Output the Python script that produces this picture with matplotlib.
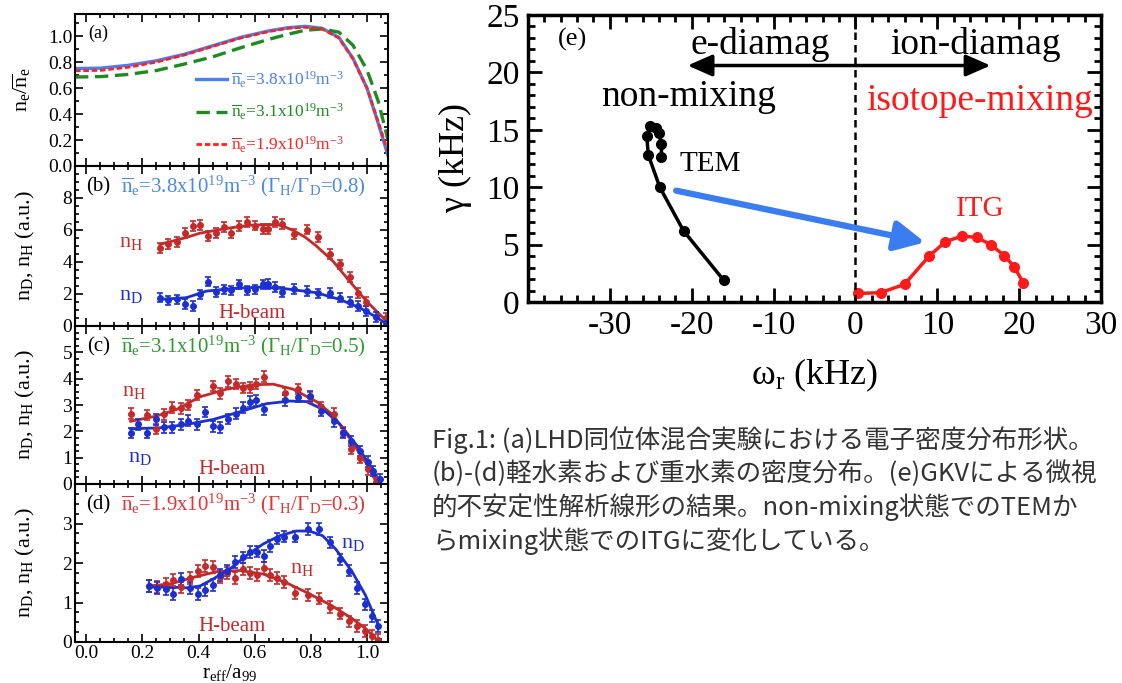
import matplotlib
matplotlib.use('Agg')
import matplotlib.pyplot as plt
from matplotlib.ticker import MultipleLocator

plt.rcParams['font.family'] = ['Liberation Serif', 'DejaVu Serif']
plt.rcParams['font.serif'] = ['Liberation Serif', 'DejaVu Serif']
plt.rcParams['mathtext.fontset'] = 'custom'
plt.rcParams['mathtext.rm'] = 'Liberation Serif'
plt.rcParams['mathtext.default'] = 'regular'

## (a) 电子密度分布
x_a = [-0.04, 0.05, 0.15, 0.25, 0.35, 0.45, 0.55, 0.65, 0.72, 0.78, 0.84, 0.90, 0.95, 1.0, 1.04, 1.075]
ne_38 = [0.75, 0.753, 0.775, 0.81, 0.86, 0.925, 0.99, 1.04, 1.065, 1.075, 1.06, 0.99, 0.83, 0.60, 0.33, 0.08]
ne_31 = [0.685, 0.688, 0.705, 0.735, 0.785, 0.84, 0.91, 0.975, 1.015, 1.045, 1.055, 1.03, 0.93, 0.74, 0.50, 0.20]
ne_19 = [0.733, 0.736, 0.76, 0.80, 0.855, 0.92, 0.985, 1.035, 1.06, 1.068, 1.055, 0.985, 0.825, 0.60, 0.34, 0.11]

## (b) ne=3.8
xb_H = [0.262, 0.292, 0.322, 0.351, 0.381, 0.407, 0.434, 0.464, 0.49, 0.517, 0.545, 0.573, 0.60, 0.63, 0.648,
        0.672, 0.699, 0.739, 0.787, 0.826, 0.867, 0.903, 0.938, 0.968, 0.998, 1.069]
nH_b = [4.89, 5.13, 5.26, 5.82, 6.24, 6.30, 5.61, 5.82, 6.17, 5.82, 6.24, 6.51, 6.28, 6.07, 6.07,
        6.49, 6.38, 5.76, 6.03, 5.55, 4.51, 3.85, 3.06, 2.08, 1.52, 0.52]
xb_D = [0.262, 0.292, 0.322, 0.351, 0.381, 0.407, 0.434, 0.464, 0.49, 0.517, 0.545, 0.573, 0.60, 0.63, 0.648,
        0.672, 0.699, 0.739, 0.787, 0.826, 0.867, 0.903, 0.938, 0.968, 0.998, 1.033, 1.069]
nD_b = [1.77, 1.60, 1.66, 1.39, 1.25, 1.98, 2.77, 2.12, 2.29, 2.22, 2.60, 2.22, 2.29, 2.60, 2.64,
        2.43, 2.14, 2.33, 2.18, 2.04, 2.08, 1.77, 1.50, 1.25, 0.94, 0.56, 0.21]
fitb_xH = [0.262, 0.35, 0.405, 0.5, 0.583, 0.678, 0.70, 0.74, 0.78, 0.82, 0.879, 0.938, 0.998, 1.057, 1.075]
fitb_H = [5.1, 5.5, 5.8, 6.1, 6.3, 6.34, 6.25, 5.95, 5.55, 5.0, 4.05, 2.8, 1.56, 0.52, 0.2]
fitb_xD = [0.262, 0.357, 0.428, 0.523, 0.618, 0.701, 0.82, 0.903, 0.974, 1.033, 1.075]
fitb_D = [1.66, 1.77, 2.18, 2.35, 2.43, 2.35, 2.08, 1.66, 1.14, 0.56, 0.06]
err_b = 0.3

## (c) ne=3.1
xc_H = [0.158, 0.217, 0.248, 0.277, 0.307, 0.336, 0.363, 0.393, 0.45, 0.478, 0.506, 0.535, 0.559,
        0.585, 0.606, 0.632, 0.707, 0.755, 0.798, 0.838, 0.882, 0.915, 0.944, 0.974, 1.004, 1.033]
nH_c = [2.67, 2.62, 2.09, 2.64, 2.9, 2.87, 3.0, 3.38, 3.73, 3.44, 3.9, 3.8, 3.64,
        3.67, 3.8, 4.08, 3.44, 3.6, 3.31, 2.92, 2.67, 1.97, 1.33, 1.0, 0.56, 0.08]
xc_D = [0.158, 0.185, 0.217, 0.248, 0.277, 0.307, 0.336, 0.363, 0.393, 0.423, 0.45, 0.478, 0.506, 0.535,
        0.559, 0.585, 0.606, 0.632, 0.707, 0.755, 0.798, 0.838, 0.882, 0.915, 0.944, 0.974, 1.004, 1.021, 1.045]
nD_c = [1.94, 2.26, 1.94, 2.45, 2.15, 2.15, 2.26, 2.41, 2.26, 2.74, 2.19, 2.15, 2.47, 2.67,
        2.9, 3.13, 3.18, 2.83, 3.18, 3.30, 3.35, 2.79, 2.38, 1.94, 1.64, 1.26, 0.85, 0.49, 0.18]
fitc_xH = [0.158, 0.25, 0.322, 0.405, 0.5, 0.594, 0.666, 0.737, 0.82, 0.879, 0.938, 0.998, 1.033]
fitc_H = [2.38, 2.58, 2.83, 3.31, 3.6, 3.77, 3.79, 3.6, 3.13, 2.62, 1.74, 0.78, 0.08]
fitc_xD = [0.158, 0.262, 0.357, 0.452, 0.547, 0.642, 0.725, 0.784, 0.844, 0.903, 0.962, 1.01, 1.045]
fitc_D = [2.1, 2.13, 2.26, 2.45, 2.74, 3.05, 3.15, 3.13, 2.83, 2.28, 1.49, 0.72, 0.1]
err_c = 0.2

## (d) ne=1.9
xd = [0.224, 0.253, 0.283, 0.31, 0.339, 0.368, 0.397, 0.424, 0.451, 0.477, 0.503, 0.53, 0.557, 0.583, 0.607,
      0.632, 0.656, 0.68, 0.703, 0.745, 0.789, 0.83, 0.868, 0.903, 0.936, 0.966, 0.993, 1.017, 1.04]
nD_d = [1.42, 1.37, 1.35, 1.21, 1.60, 1.37, 1.22, 1.31, 1.45, 1.70, 1.81, 2.02, 2.14, 2.27, 2.29,
        2.17, 2.44, 2.62, 2.67, 2.67, 2.86, 2.86, 2.52, 2.09, 1.81, 1.37, 0.95, 0.66, 0.40]
nH_d = [1.42, 1.40, 1.47, 1.56, 1.38, 1.62, 1.80, 1.92, 1.90, 1.65, 1.75, 1.62, 1.85, 1.75, 1.70,
        1.88, 1.70, 1.62, 1.52, 1.25, 1.18, 1.10, 0.88, 0.72, 0.52, 0.40, 0.27, 0.16, 0.05]
fitd_xH = [0.224, 0.3, 0.383, 0.465, 0.548, 0.63, 0.713, 0.795, 0.877, 0.948, 0.995, 1.036]
fitd_H = [1.42, 1.47, 1.64, 1.78, 1.81, 1.72, 1.5, 1.22, 0.91, 0.59, 0.34, 0.05]
fitd_xD = [0.224, 0.3, 0.359, 0.406, 0.453, 0.512, 0.571, 0.63, 0.689, 0.748, 0.795, 0.842, 0.889, 0.948, 0.995, 1.04]
fitd_D = [1.39, 1.39, 1.37, 1.42, 1.6, 1.85, 2.19, 2.48, 2.69, 2.81, 2.81, 2.69, 2.35, 1.77, 1.18, 0.43]
err_d = 0.15

## (e) GKV 线性结果
tem_w = [-16.1, -21.0, -23.9, -25.3, -25.5, -25.1, -24.4, -24.0, -23.7, -23.7]
tem_g = [1.9, 6.2, 10.0, 12.8, 14.5, 15.3, 15.2, 14.7, 13.8, 12.6]
itg_w = [0.36, 3.07, 6.0, 9.0, 11.0, 13.0, 14.9, 16.6, 18.2, 19.4, 20.5]
itg_g = [0.75, 0.81, 1.54, 4.0, 5.25, 5.74, 5.62, 4.96, 4.03, 3.07, 1.68]

caption = ['Fig.1: (a)LHD同位体混合実験における電子密度分布形状。',
           '(b)-(d)軽水素および重水素の密度分布。(e)GKVによる微視',
           '的不安定性解析線形の結果。non-mixing状態でのTEMか',
           'らmixing状態でのITGに変化している。']

C_H = '#c42a2a'
C_D = '#1c2fcf'
SERIF = 'Liberation Serif'

fig = plt.figure(figsize=(11.22, 6.83), dpi=100)

def rect(top, bot, left=75, right=388):
    return [left/1122, 1-bot/683, (right-left)/1122, (bot-top)/683]

def style(ax, lw=1.5, big=6, small=3, size=14, pad=3):
    for s in ax.spines.values():
        s.set_linewidth(lw)
    ax.tick_params(which='both', direction='in', top=True, right=True, width=lw*0.8, labelsize=size, pad=pad)
    ax.tick_params(which='major', length=big)
    ax.tick_params(which='minor', length=small)

def serif_ticks(ax):
    for t in ax.get_xticklabels() + ax.get_yticklabels():
        t.set_fontfamily(SERIF)

ax_a = fig.add_axes(rect(14, 166))
ax_b = fig.add_axes(rect(166, 326))
ax_c = fig.add_axes(rect(326, 484))
ax_d = fig.add_axes(rect(484, 642))
left_axes = [ax_a, ax_b, ax_c, ax_d]

##(a)
ax_a.plot(x_a, ne_38, color='#4a7ff0', lw=2.4, label=r'$\overline{n}_e$=3.8x10$^{19}$m$^{-3}$')
ax_a.plot(x_a, ne_31, color='#1f8a1f', lw=2.4, ls=(0, (4, 2)), label=r'$\overline{n}_e$=3.1x10$^{19}$m$^{-3}$')
ax_a.plot(x_a, ne_19, color='#ff2020', lw=2.0, ls=(0, (2, 1)), label=r'$\overline{n}_e$=1.9x10$^{19}$m$^{-3}$')
ax_a.set_ylim(0, 1.17)
ax_a.yaxis.set_major_locator(MultipleLocator(0.2))
ax_a.yaxis.set_minor_locator(MultipleLocator(0.1))
ax_a.set_ylabel(r'$n_e/\overline{n}_e$', fontsize=16)
ax_a.yaxis.set_label_coords(-0.135, 0.5)
ax_a.text(0.075, 0.87, '(a)', transform=ax_a.transAxes, fontsize=13, ha='center', va='center')
ax_a.legend(loc='lower right', bbox_to_anchor=(0.91, -0.03), frameon=False, fontsize=12.5,
            handlelength=1.8, handletextpad=0.25, labelspacing=0.7, labelcolor='linecolor')

##(b)-(d)
panels = [
    (ax_b, xb_H, nH_b, xb_D, nD_b, fitb_xH, fitb_H, fitb_xD, fitb_D, err_b, 10, 2, 0.5,
     '(b)', r'$\overline{n}_e$=3.8x10$^{19}$m$^{-3}$ ($\Gamma_H/\Gamma_D$=0.8)', '#4a8ae6',
     (0.16, 5.2), (0.16, 1.9), (0.59, 0.75)),
    (ax_c, xc_H, nH_c, xc_D, nD_c, fitc_xH, fitc_H, fitc_xD, fitc_D, err_c, 6, 1, 0.25,
     '(c)', r'$\overline{n}_e$=3.1x10$^{19}$m$^{-3}$ ($\Gamma_H/\Gamma_D$=0.5)', '#2e9b2e',
     (0.17, 3.5), (0.19, 1.0), (0.52, 0.55)),
    (ax_d, xd, nH_d, xd, nD_d, fitd_xH, fitd_H, fitd_xD, fitd_D, err_d, 4, 1, 0.25,
     '(d)', r'$\overline{n}_e$=1.9x10$^{19}$m$^{-3}$ ($\Gamma_H/\Gamma_D$=0.3)', '#e63232',
     (0.77, 1.85), (0.95, 2.5), (0.52, 0.4)),
]
for (ax, xh, yh, xdd, ydd, fxh, fh, fxd, fd, err, ytop, ymaj, ymin,
     tag, title, tcol, posH, posD, posB) in panels:
    ax.plot(fxh, fh, color=C_H, lw=2)
    ax.plot(fxd, fd, color=C_D, lw=2)
    ax.errorbar(xh, yh, yerr=err, fmt='o', color=C_H, ms=4, capsize=2.5, elinewidth=1.2, capthick=1.2)
    ax.errorbar(xdd, ydd, yerr=err, fmt='o', color=C_D, ms=4, capsize=2.5, elinewidth=1.2, capthick=1.2)
    ax.set_ylim(0, ytop)
    ax.set_yticks(range(0, ytop, ymaj))
    ax.yaxis.set_minor_locator(MultipleLocator(ymin))
    ax.set_ylabel(r'$n_D$, $n_H$ (a.u.)', fontsize=16)
    ax.yaxis.set_label_coords(-0.12, 0.5)
    ax.text(0.074, 0.87, tag, transform=ax.transAxes, fontsize=15, ha='center', va='center')
    ax.text(0.148, 0.87, title, transform=ax.transAxes, fontsize=15, va='center', color=tcol)
    ax.text(posH[0], posH[1], r'$n_H$', fontsize=16, color=C_H, ha='center', va='center')
    ax.text(posD[0], posD[1], r'$n_D$', fontsize=16, color=C_D, ha='center', va='center')
    ax.text(posB[0], posB[1], 'H-beam', fontsize=15, color=C_H, ha='center', va='center')

for ax in left_axes:
    ax.set_xlim(-0.04, 1.075)
    ax.xaxis.set_major_locator(MultipleLocator(0.2))
    ax.xaxis.set_minor_locator(MultipleLocator(0.05))
    style(ax, pad=2)
    if ax is not ax_d:
        ax.tick_params(labelbottom=False)
ax_d.set_xlabel(r'$r_{eff}/a_{99}$', fontsize=15)
ax_d.xaxis.set_label_coords(0.495, -0.125)

##(e)
ax_e = fig.add_axes(rect(15, 302, 528, 1101))
ax_e.plot(tem_w, tem_g, color='black', lw=2.5, marker='o', ms=7)
ax_e.plot(itg_w, itg_g, color='#ff1a1a', lw=2.5, marker='o', ms=7)
ax_e.axvline(0, color='black', lw=1.8, ls=(0, (3, 2)))
ax_e.set_xlim(-40, 30)
ax_e.set_ylim(0, 25)
ax_e.set_xticks([-30, -20, -10, 0, 10, 20, 30])
ax_e.set_xticklabels(['-30', '-20', '-10', '0', '10', '20', '30'])
ax_e.xaxis.set_minor_locator(MultipleLocator(2))
ax_e.yaxis.set_major_locator(MultipleLocator(5))
ax_e.yaxis.set_minor_locator(MultipleLocator(1))
style(ax_e, lw=2.5, big=10, small=5, size=24, pad=6)
ax_e.set_xlabel(r'$\omega_r$ (kHz)', fontsize=26)
ax_e.xaxis.set_label_coords(0.5, -0.19)
ax_e.set_ylabel(r'$\gamma$ (kHz)', fontsize=26)
ax_e.yaxis.set_label_coords(-0.095, 0.5)

ax_e.annotate('', xy=(-20.5, 20.6), xytext=(0, 20.6),
              arrowprops=dict(arrowstyle='-|>,head_length=0.5,head_width=0.22', color='black', lw=2.5, mutation_scale=30, shrinkA=0, shrinkB=0))
ax_e.annotate('', xy=(16.5, 20.6), xytext=(0, 20.6),
              arrowprops=dict(arrowstyle='-|>,head_length=0.5,head_width=0.22', color='black', lw=2.5, mutation_scale=30, shrinkA=0, shrinkB=0))
ax_e.annotate('', xy=(8.5, 5.2), xytext=(-21.9, 9.7),
              arrowprops=dict(arrowstyle='-|>,head_length=0.6,head_width=0.3', color='#3a7df0', lw=4.5, mutation_scale=30, shrinkA=0, shrinkB=0))

ax_e.text(-34.6, 22.9, '(e)', fontsize=19, ha='center', va='center')
ax_e.text(-11.6, 22.4, 'e-diamag', fontsize=27, ha='center', va='center')
ax_e.text(14.7, 22.4, 'ion-diamag', fontsize=27, ha='center', va='center')
ax_e.text(-20.4, 17.9, 'non-mixing', fontsize=27, ha='center', va='center')
ax_e.text(15.2, 17.5, 'isotope-mixing', fontsize=27, ha='center', va='center', color='#ff1a1a')
ax_e.text(-17.8, 12.0, 'TEM', fontsize=21, ha='center', va='center')
ax_e.text(15.3, 8.1, 'ITG', fontsize=21, ha='center', va='center', color='#ff1a1a')

for ax in left_axes + [ax_e]:
    serif_ticks(ax)

##说明文字
for i, line in enumerate(caption):
    fig.text(432/1122, 1 - (440 + 33.7*i)/683, line, fontsize=18.4, color='#333333', va='center',
             family=['Noto Sans CJK JP', 'DejaVu Sans'])

fig.savefig('out.png', dpi=100)
